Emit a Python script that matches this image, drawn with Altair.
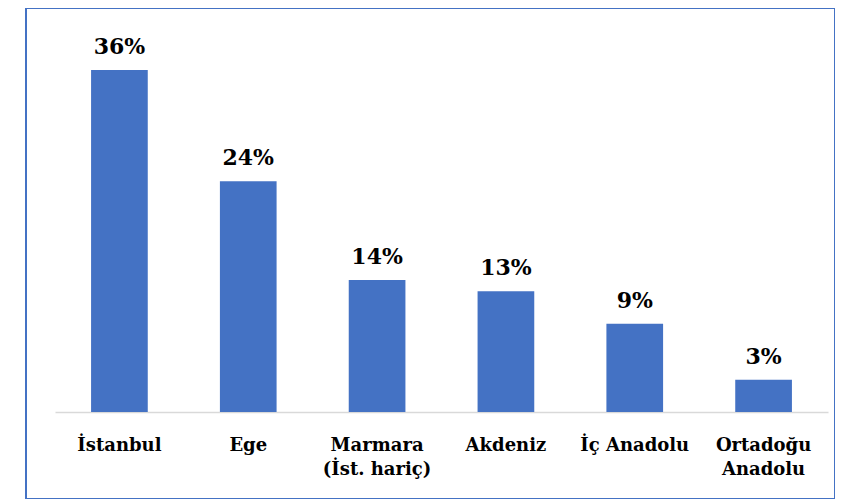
import altair as alt
import pandas as pd

regions = ["İstanbul", "Ege", "Marmara|(İst. hariç)", "Akdeniz", "İç Anadolu", "Ortadoğu|Anadolu"]
values = [36.0, 24.3, 13.9, 12.7, 9.3, 3.4]
labels = ["36%", "24%", "14%", "13%", "9%", "3%"]

df = pd.DataFrame({"region": regions, "value": values, "label": labels})

FONT = "DejaVu Serif"

x = alt.X("region:N", sort=None, title=None,
          scale=alt.Scale(range=[29, 802], paddingInner=0.56, paddingOuter=0.28),
          axis=alt.Axis(labelAngle=0, ticks=False, domainColor="#d9d9d9", domainWidth=1.5,
                        offset=-87, labelPadding=24, labelFont=FONT, labelFontSize=18,
                        labelFontWeight="bold", labelColor="#000000", labelLineHeight=24,
                        labelExpr="split(datum.label, '|')", labelLimit=200))
y = alt.Y("value:Q", title=None,
          scale=alt.Scale(domain=[0, 36], range=[404, 62], nice=False),
          axis=None)

bars = alt.Chart(df).mark_bar(color="#4472C4").encode(x=x, y=y)
text = alt.Chart(df).mark_text(font=FONT, fontSize=22, fontWeight="bold", color="#000000",
                               baseline="alphabetic", dy=-16).encode(
    x=alt.X("region:N", sort=None), y="value:Q", text="label:N")

chart = alt.layer(bars, text).properties(
    width=809, height=491,
    autosize=alt.AutoSizeParams(type="none"),
    padding={"left": 18, "top": 0, "right": 0, "bottom": 0},
    background="white",
).configure_view(stroke="#4472C4", strokeWidth=2)

chart.save("out.html", embed_options={"renderer": "svg", "actions": False})
